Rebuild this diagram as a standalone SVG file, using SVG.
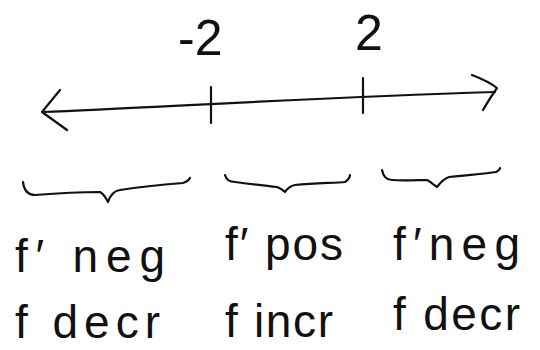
<svg xmlns="http://www.w3.org/2000/svg" width="540" height="350" viewBox="0 0 540 350">
<style>
.ink{fill:none;stroke:#111;stroke-width:2.2;stroke-linecap:round;stroke-linejoin:round}
.lbl{font-family:"Liberation Sans","DejaVu Sans",sans-serif;fill:#111}
.num{font-size:50px}
.txt{font-size:46px}
</style>
<rect width="540" height="350" fill="#fff"/>
<g id="connectors">
  <path class="ink" d="M42,112 C150,108 300,98 495,92" stroke-width="1.6"/>
  <path class="ink" d="M60,90 L42,112 L67,130"/>
  <path class="ink" d="M472,75 C485,80 492,84 497,88 C492,95 487,103 483,110"/>
</g>
<g id="tick-neg2">
  <path class="ink" d="M211,87 L211,123"/>
  <text class="lbl num" x="178" y="55">-2</text>
</g>
<g id="tick-2">
  <path class="ink" d="M363,78 L363,113"/>
  <text class="lbl num" x="355" y="50">2</text>
</g>
<g id="interval-1">
  <path class="ink" d="M23,182 C24,190 27,195 35,195 C60,193 85,192 100,192 C104,194 106,198 108,202 C110,196 113,191 120,190 C145,186 170,184 183,183 C186,182 189,180 190,178"/>
  <text class="lbl txt" x="15" y="272" textLength="150" lengthAdjust="spacing">f′ neg</text>
  <text class="lbl txt" x="15" y="338" textLength="145" lengthAdjust="spacing">f decr</text>
</g>
<g id="interval-2">
  <path class="ink" d="M225,175 C226,179 228,182 235,182 C250,184 265,186 277,187 C280,188 283,190 285,192 C287,189 290,186 295,185 C315,183 335,183 345,182 C348,180 350,178 350,175"/>
  <text class="lbl txt" x="225" y="260" textLength="118" lengthAdjust="spacing">f′ pos</text>
  <text class="lbl txt" x="225" y="337" textLength="108" lengthAdjust="spacing">f incr</text>
</g>
<g id="interval-3">
  <path class="ink" d="M382,170 C383,175 386,180 392,180 C405,181 418,180 427,180 C431,182 434,185 437,187 C440,183 443,179 449,177 C465,175 485,174 496,172 C498,171 500,169 500,168"/>
  <text class="lbl txt" x="393" y="260" textLength="127" lengthAdjust="spacing">f′neg</text>
  <text class="lbl txt" x="393" y="330" textLength="127" lengthAdjust="spacing">f decr</text>
</g>
</svg>
